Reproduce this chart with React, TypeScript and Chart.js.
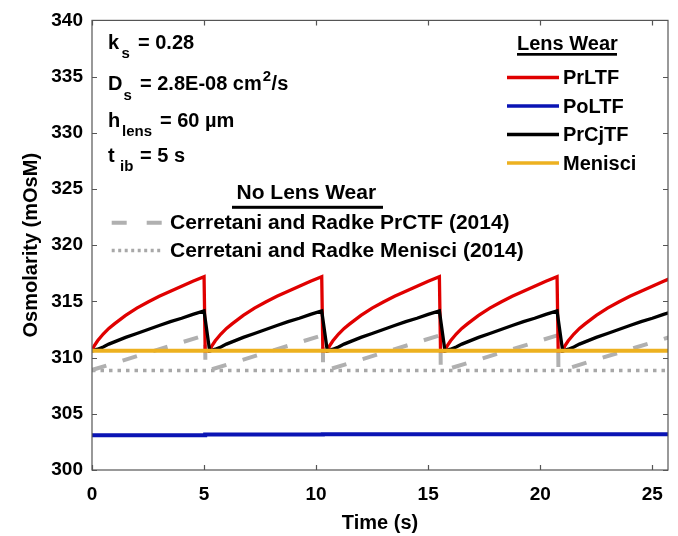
import React, { useEffect, useRef } from "react";
import { Chart, registerables } from "chart.js";

Chart.register(...registerables);

// ---------- data ----------
const xTicks = [0, 5, 10, 15, 20, 25];
const yTicks = [300, 305, 310, 315, 320, 325, 330, 335, 340];
const xMin = 0;
const xMax = 25.7;
const yMin = 300;
const yMax = 340;

// start of each interblink cycle (s)
const cycleStarts = [0, 5.25, 10.5, 15.75, 21];
// time since cycle start (s)
const riseTimes = [0, 0.1, 0.25, 0.5, 0.75, 1, 1.5, 2, 2.5, 3, 3.5, 4, 4.5, 5];
// PrLTF osmolarity during one interblink (mOsM)
const prltfRise = [310.6, 311.05, 311.5, 312.1, 312.6, 313.0, 313.75, 314.4, 314.95, 315.45, 315.9, 316.35, 316.8, 317.2];
// PrCjTF osmolarity during one interblink (mOsM)
const prcjtfRise = [310.6, 310.65, 310.75, 310.95, 311.2, 311.4, 311.8, 312.15, 312.5, 312.85, 313.2, 313.5, 313.85, 314.15];
// time at which PrLTF is back at baseline after the blink (s after cycle start)
const prltfResetTime = 5.05;
// Cerretani & Radke PrCTF: start / peak / reset of each cycle
const crPrctfTimes = [0, 5.05, 5.06];
const crPrctfValues = [308.9, 312.0, 308.9];
// Menisci (lens wear)
const menisciTimes = [0, 26];
const menisciValues = [310.6, 310.6];
// Cerretani & Radke Menisci
const crMenisciTimes = [0, 26];
const crMenisciValues = [308.85, 308.85];
// PoLTF
const poltfTimes = [0, 5.05, 10.3, 15.55, 20.8, 26];
const poltfValues = [303.1, 303.15, 303.17, 303.18, 303.18, 303.18];

const seriesNames = ["PrLTF", "PoLTF", "PrCjTF", "Menisci"];
const seriesColors = ["#e00000", "#0a14b4", "#000000", "#edb120"];
const refNames = ["Cerretani and Radke PrCTF (2014)", "Cerretani and Radke Menisci (2014)"];
const grayDash = "#b0b0b0";
const grayDot = "#a8a8a8";

const FONT = '"Liberation Sans", Arial, Helvetica, sans-serif';

function buildPrltf() {
  const pts: { x: number; y: number }[] = [];
  cycleStarts.forEach((s) => {
    riseTimes.forEach((t, i) => pts.push({ x: s + t, y: prltfRise[i] }));
    pts.push({ x: s + prltfResetTime, y: prltfRise[0] });
  });
  return pts;
}
function buildPrcjtf() {
  const pts: { x: number; y: number }[] = [];
  cycleStarts.forEach((s) => {
    riseTimes.forEach((t, i) => pts.push({ x: s + t, y: prcjtfRise[i] }));
  });
  return pts;
}
function buildCrPrctf() {
  const pts: { x: number; y: number }[] = [];
  cycleStarts.forEach((s) => {
    crPrctfTimes.forEach((t, i) => pts.push({ x: s + t, y: crPrctfValues[i] }));
  });
  return pts;
}
const zip = (xs: number[], ys: number[]) => xs.map((x, i) => ({ x, y: ys[i] }));

const framePlugin = {
  id: "framePlugin",
  afterDraw(chart: any) {
    const { ctx, chartArea, scales } = chart;
    const { left, right, top, bottom } = chartArea;
    ctx.save();
    // box
    ctx.strokeStyle = "#555555";
    ctx.lineWidth = 1.2;
    ctx.strokeRect(left, top, right - left, bottom - top);
    // inward ticks
    const tl = 5;
    ctx.beginPath();
    xTicks.forEach((v) => {
      const px = Math.round(scales.x.getPixelForValue(v)) + 0.5;
      ctx.moveTo(px, bottom);
      ctx.lineTo(px, bottom - tl);
      ctx.moveTo(px, top);
      ctx.lineTo(px, top + tl);
    });
    yTicks.forEach((v) => {
      const py = Math.round(scales.y.getPixelForValue(v)) + 0.5;
      ctx.moveTo(left, py);
      ctx.lineTo(left + tl, py);
      ctx.moveTo(right, py);
      ctx.lineTo(right - tl, py);
    });
    ctx.stroke();

    ctx.fillStyle = "#000";
    // axis titles
    ctx.font = `bold 20px ${FONT}`;
    ctx.textAlign = "center";
    ctx.textBaseline = "middle";
    ctx.fillText("Time (s)", (left + right) / 2, 523);
    ctx.save();
    ctx.translate(31, (top + bottom) / 2);
    ctx.rotate(-Math.PI / 2);
    ctx.fillText("Osmolarity (mOsM)", 0, 0);
    ctx.restore();

    // parameter annotations
    ctx.textAlign = "left";
    ctx.textBaseline = "alphabetic";
    const main = `bold 20px ${FONT}`;
    const sub = `bold 15px ${FONT}`;
    const drawSub = (x: number, y: number, a: string, s: string, sx: number, rest: string, rx: number) => {
      ctx.font = main;
      ctx.fillText(a, x, y);
      ctx.font = sub;
      ctx.fillText(s, sx, y + 9.5);
      ctx.font = main;
      ctx.fillText(rest, rx, y);
    };
    drawSub(108, 48.5, "k", "s", 121.5, "= 0.28", 138);
    drawSub(108, 90, "D", "s", 123.5, "= 2.8E-08 cm", 140);
    ctx.font = main;
    const wD = ctx.measureText("= 2.8E-08 cm").width;
    ctx.font = sub;
    ctx.fillText("2", 140 + wD + 1, 81);
    const w2 = ctx.measureText("2").width;
    ctx.font = main;
    ctx.fillText("/s", 140 + wD + 1 + w2 + 0.5, 90);
    drawSub(108, 126.7, "h", "lens", 122, "= 60 µm", 160);
    drawSub(108, 161.7, "t", "ib", 120, "= 5 s", 140);

    // Lens Wear legend
    ctx.font = `bold 20px ${FONT}`;
    ctx.fillText("Lens Wear", 517, 50);
    ctx.fillRect(517, 53, 100, 2.7);
    const legYs = [77.5, 106, 134.5, 163];
    seriesNames.forEach((n, i) => {
      ctx.strokeStyle = seriesColors[i];
      ctx.lineWidth = 3.5;
      ctx.setLineDash([]);
      ctx.beginPath();
      ctx.moveTo(507, legYs[i]);
      ctx.lineTo(559, legYs[i]);
      ctx.stroke();
      ctx.fillStyle = "#000";
      ctx.textBaseline = "middle";
      ctx.fillText(n, 563, legYs[i] + 1);
    });

    // No Lens Wear legend
    ctx.textBaseline = "alphabetic";
    ctx.font = `bold 21px ${FONT}`;
    ctx.fillText("No Lens Wear", 236.5, 199);
    ctx.fillRect(232, 205.8, 151, 3);
    ctx.lineWidth = 4;
    ctx.strokeStyle = grayDash;
    ctx.setLineDash([15, 20]);
    ctx.beginPath();
    ctx.moveTo(111.7, 222.7);
    ctx.lineTo(163.3, 222.7);
    ctx.stroke();
    ctx.strokeStyle = grayDot;
    ctx.lineWidth = 3.5;
    ctx.setLineDash([3, 3.5]);
    ctx.beginPath();
    ctx.moveTo(111.7, 250.5);
    ctx.lineTo(162, 250.5);
    ctx.stroke();
    ctx.setLineDash([]);
    ctx.textBaseline = "middle";
    ctx.fillText(refNames[0], 170, 223.5);
    ctx.fillText(refNames[1], 170, 251.5);
    ctx.restore();
  },
};

export default function App() {
  const ref = useRef<HTMLCanvasElement | null>(null);
  useEffect(() => {
    if (!ref.current) return;
    const tickFont = { family: FONT, size: 19, weight: "bold" as const };
    const chart = new Chart(ref.current, {
      type: "line",
      data: {
        datasets: [
          {
            label: seriesNames[3],
            data: zip(menisciTimes, menisciValues),
            borderColor: seriesColors[3],
            borderWidth: 4,
            order: 0,
          },
          {
            label: seriesNames[2],
            data: buildPrcjtf(),
            borderColor: seriesColors[2],
            borderWidth: 3.3,
            order: 1,
          },
          {
            label: seriesNames[0],
            data: buildPrltf(),
            borderColor: seriesColors[0],
            borderWidth: 3.3,
            order: 2,
          },
          {
            label: seriesNames[1],
            data: zip(poltfTimes, poltfValues),
            borderColor: seriesColors[1],
            borderWidth: 4,
            stepped: "before",
            order: 3,
          },
          {
            label: refNames[0],
            data: buildCrPrctf(),
            borderColor: grayDash,
            borderWidth: 4,
            borderDash: [15, 17],
            order: 4,
          },
          {
            label: refNames[1],
            data: zip(crMenisciTimes, crMenisciValues),
            borderColor: grayDot,
            borderWidth: 3.5,
            borderDash: [3.5, 5],
            order: 5,
          },
        ] as any,
      },
      options: {
        animation: false,
        responsive: false,
        devicePixelRatio: 1,
        layout: { padding: { left: 0, right: 10, top: 18, bottom: 0 } },
        elements: {
          point: { radius: 0, hoverRadius: 0 },
          line: { tension: 0, borderCapStyle: "butt", borderJoinStyle: "miter", fill: false },
        },
        plugins: { legend: { display: false }, tooltip: { enabled: false } },
        scales: {
          x: {
            type: "linear",
            min: xMin,
            max: xMax,
            afterBuildTicks: (s: any) => {
              s.ticks = xTicks.map((v) => ({ value: v }));
            },
            afterFit: (s: any) => {
              s.height = 66;
            },
            grid: { display: false, drawTicks: false },
            border: { display: false },
            ticks: { font: tickFont, color: "#000", padding: 13, maxRotation: 0, autoSkip: false },
          },
          y: {
            type: "linear",
            min: yMin,
            max: yMax,
            afterBuildTicks: (s: any) => {
              s.ticks = yTicks.map((v) => ({ value: v }));
            },
            afterFit: (s: any) => {
              s.width = 92;
            },
            grid: { display: false, drawTicks: false },
            border: { display: false },
            ticks: { font: tickFont, color: "#000", padding: 9, autoSkip: false },
          },
        },
      } as any,
      plugins: [framePlugin],
    });
    return () => chart.destroy();
  }, []);
  return (
    <div style={{ position: "fixed", left: 0, top: 0, width: 678, height: 536, background: "#fff" }}>
      <canvas ref={ref} width={678} height={536} style={{ display: "block", width: 678, height: 536 }} />
    </div>
  );
}
